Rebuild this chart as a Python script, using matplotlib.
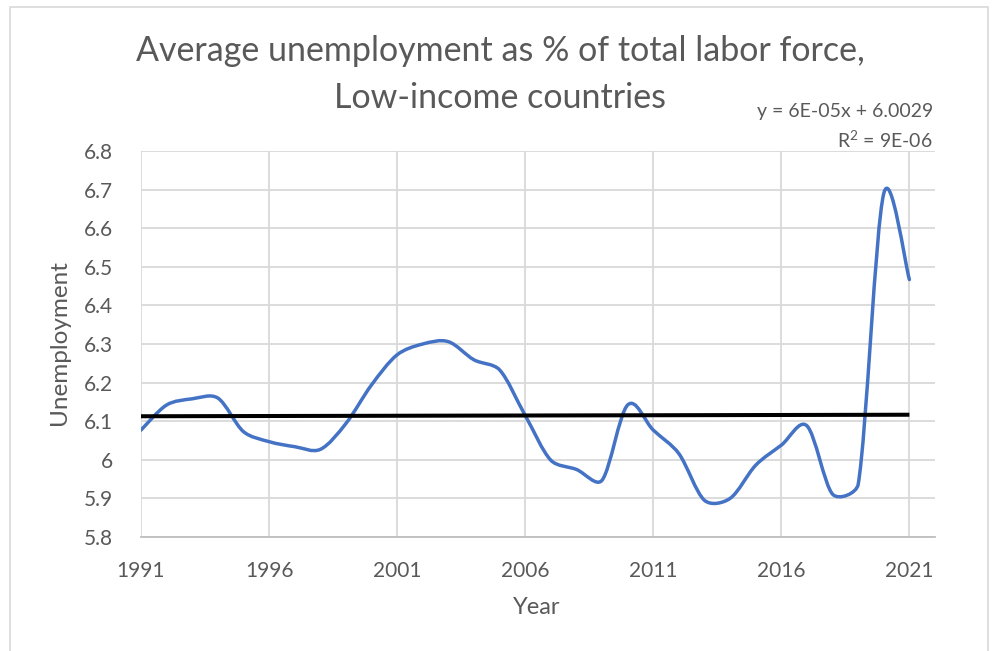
import numpy as np
import matplotlib.pyplot as plt
from matplotlib.path import Path
from matplotlib.patches import PathPatch, Rectangle

years = list(range(1991, 2022))
unemployment = [6.077, 6.142, 6.158, 6.160, 6.073, 6.047, 6.034, 6.027, 6.094, 6.194,
                6.272, 6.300, 6.306, 6.259, 6.233, 6.115, 5.999, 5.975, 5.947, 6.142,
                6.077, 6.016, 5.895, 5.900, 5.986, 6.038, 6.088, 5.911, 5.936, 6.690,
                6.467]
x_ticks = [1991, 1996, 2001, 2006, 2011, 2016, 2021]
y_ticks = [5.8, 5.9, 6.0, 6.1, 6.2, 6.3, 6.4, 6.5, 6.6, 6.7, 6.8]
y_ticklabels = ['5.8', '5.9', '6', '6.1', '6.2', '6.3', '6.4', '6.5', '6.6', '6.7', '6.8']

title_1 = 'Average unemployment as % of total labor force,'
title_2 = 'Low-income countries'
eq_txt = 'y = 6E-05x + 6.0029'
r2_txt = 'R$^2$ = 9E-06'

plt.rcParams['font.family'] = ['Lato', 'DejaVu Sans']
plt.rcParams['mathtext.fontset'] = 'custom'
plt.rcParams['mathtext.rm'] = 'Lato'
grey_txt = '#595959'
grid_col = '#d9d9d9'
blue = '#4472c4'

W, H = 993, 651
fig = plt.figure(figsize=(W / 100, H / 100), dpi=100)

# chart frame (runs off the bottom edge)
fig.patches.append(Rectangle((10 / W, -0.05), 978 / W, 1.05 - 7 / H,
                             transform=fig.transFigure, fill=False,
                             edgecolor=grid_col, linewidth=1.2))

ax = fig.add_axes([141 / W, (H - 537) / H, (935 - 141) / W, (537 - 151) / H])
ax.set_xlim(1991, 2022)
ax.set_ylim(5.8, 6.8)
fig.canvas.draw()

# smoothed line: catmull-rom bezier handles, each clipped to a third of
# its segment length (in display space) so flat bits next to jumps stay flat
xs = np.array(years, dtype=float)
ys = np.array(unemployment, dtype=float)
pts = ax.transData.transform(np.column_stack([xs, ys]))
n = len(pts)
handles = np.array([(pts[min(i + 1, n - 1)] - pts[max(i - 1, 0)]) / 6.0 for i in range(n)])


def clip(v, maxlen):
    ln = np.hypot(*v)
    return v if ln <= maxlen else v * maxlen / ln


verts = [tuple(pts[0])]
codes = [Path.MOVETO]
for i in range(n - 1):
    L = np.hypot(*(pts[i + 1] - pts[i]))
    c1 = pts[i] + clip(handles[i], L / 3.0)
    c2 = pts[i + 1] - clip(handles[i + 1], L / 3.0)
    verts += [tuple(c1), tuple(c2), tuple(pts[i + 1])]
    codes += [Path.CURVE4] * 3
inv = ax.transData.inverted()
verts = [tuple(inv.transform(v)) for v in verts]
ax.add_patch(PathPatch(Path(verts, codes), facecolor='none', edgecolor=blue,
                       linewidth=2.5, capstyle='round', joinstyle='round', zorder=3))

# linear trend
coef = np.polyfit(xs, ys, 1)
ax.plot([xs[0], xs[-1]], np.polyval(coef, [xs[0], xs[-1]]), color='black',
        linewidth=2.9, zorder=4, solid_capstyle='butt')

ax.set_xticks(x_ticks)
ax.set_yticks(y_ticks)
ax.set_yticklabels(y_ticklabels)
ax.grid(True, color=grid_col, linewidth=1.3)
ax.set_axisbelow(True)
for s in ['top', 'right', 'left']:
    ax.spines[s].set_visible(False)
ax.spines['bottom'].set_color('#bfbfbf')
ax.spines['bottom'].set_linewidth(1.3)
ax.tick_params(length=0, labelsize=15, colors=grey_txt)
ax.tick_params(axis='x', pad=17)
ax.tick_params(axis='y', pad=20)

fig.text(537 / W, 1 - 607 / H, 'Year', ha='center', va='center', fontsize=17, color=grey_txt)
fig.text(60 / W, 1 - 343 / H, 'Unemployment', ha='center', va='center', rotation=90,
         fontsize=17.5, color=grey_txt)

fig.text(500 / W, 1 - 51 / H, title_1, ha='center', va='center', fontsize=24.5, color=grey_txt)
fig.text(500 / W, 1 - 98 / H, title_2, ha='center', va='center', fontsize=24.5, color=grey_txt)
fig.text(933 / W, 1 - 112 / H, eq_txt, ha='right', va='center', fontsize=14, color=grey_txt)
fig.text(933 / W, 1 - 140 / H, r2_txt, ha='right', va='center', fontsize=14, color=grey_txt)

fig.savefig('out.png', dpi=100)
